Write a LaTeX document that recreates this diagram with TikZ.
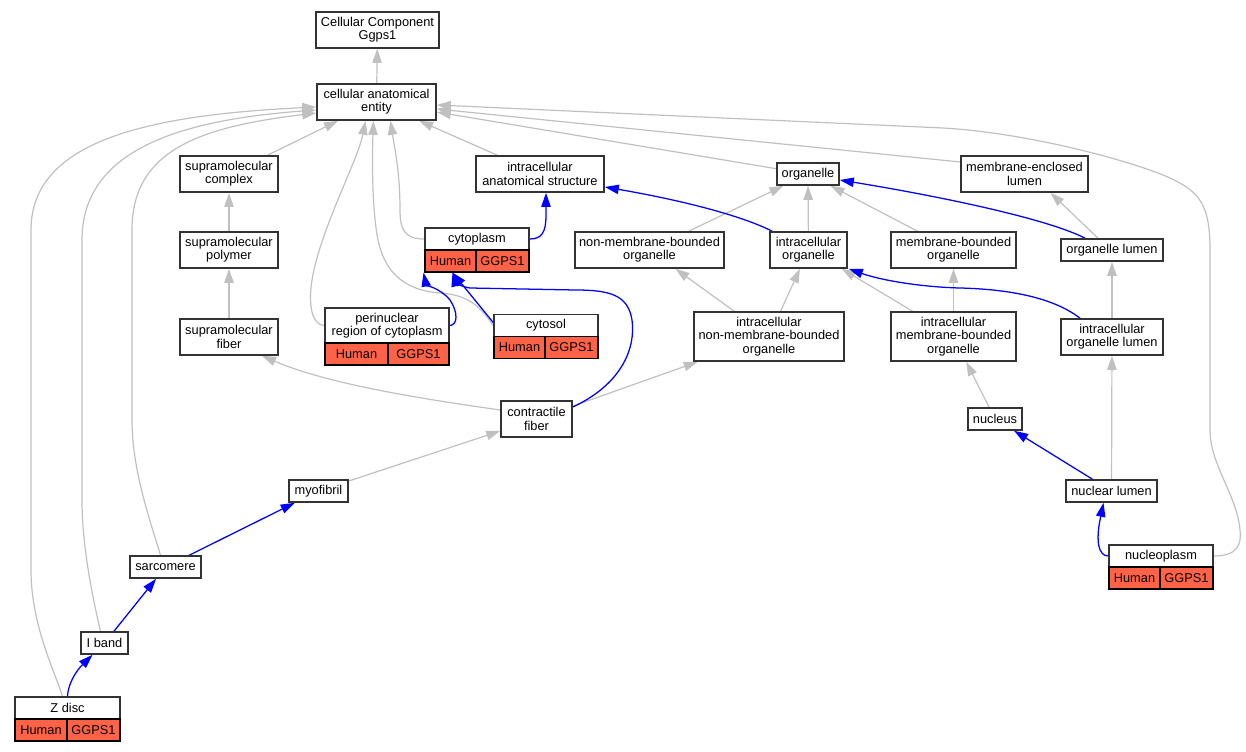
\documentclass[tikz,border=0pt]{standalone}
\usepackage{fontspec}
\setmainfont{Liberation Sans}
\usetikzlibrary{arrows.meta,calc}
\definecolor{gvred}{HTML}{FF6347}
\definecolor{gvgray}{HTML}{C0C0C0}
\definecolor{gvborder}{HTML}{333333}
\pgfdeclarelayer{edges}
\pgfsetlayers{edges,main}
\begin{document}
\begin{tikzpicture}[x=0.75pt,y=-0.75pt,
  font=\fontsize{9.6}{10}\selectfont,
  bw/.style={minimum width=#1*0.75pt},
  bh/.style={minimum height=#1*0.75pt},
  box/.style={draw=gvborder, line width=1.2pt, fill=white, inner sep=0pt, align=center},
  gene/.style={draw=black, line width=0.9pt, fill=gvred, inner sep=0pt, minimum height=16.5pt},
  tip/.style={-{Triangle[length=10.5pt,width=7pt]}},
  gedge/.style={draw=gvgray, line width=0.9pt, tip},
  bedge/.style={draw=blue, line width=0.95pt, tip}]
\useasboundingbox (0,0) rectangle (1246,752);

% nodes
\node[box,bw=123,bh=36] (ccg) at (377.5,30) {Cellular Component\\Ggps1};
\node[box,bw=119,bh=36] (cae) at (376.5,102) {cellular anatomical\\entity};
\node[box,bw=98,bh=36] (smc) at (229,174) {supramolecular\\complex};
\node[box,bw=128,bh=36] (ias) at (540,174) {intracellular\\anatomical structure};
\node[box,bw=62,bh=22] (org) at (808,174) {organelle};
\node[box,bw=127,bh=36] (mel) at (1024.5,174) {membrane-enclosed\\lumen};
\node[box,bw=98,bh=36] (smp) at (229,250) {supramolecular\\polymer};
\node[box,bw=104,bh=22] (cyto) at (477,239) {cytoplasm};
\node[gene,bw=51] (cytoH) at (450.5,261) {Human};
\node[gene,bw=53] (cytoG) at (502.5,261) {GGPS1};
\node[box,bw=149,bh=36] (nmbo) at (649.5,250) {non-membrane-bounded\\organelle};
\node[box,bw=77,bh=36] (io) at (808.5,250) {intracellular\\organelle};
\node[box,bw=125,bh=36] (mbo) at (953.5,250) {membrane-bounded\\organelle};
\node[box,bw=102,bh=22] (ol) at (1112,250) {organelle lumen};
\node[box,bw=98,bh=36] (smf) at (229,337) {supramolecular\\fiber};
\node[box,bw=124,bh=35] (peri) at (387,325.5) {perinuclear\\region of cytoplasm};
\node[gene,bw=63] (periH) at (356.5,354) {Human};
\node[gene,bw=61] (periG) at (418.5,354) {GGPS1};
\node[box,bw=104,bh=22] (cytosol) at (546,325.5) {cytosol};
\node[gene,bw=51] (cytosolH) at (519.5,347.5) {Human};
\node[gene,bw=53] (cytosolG) at (571.5,347.5) {GGPS1};
\node[box,bw=150,bh=49] (inmbo) at (769,336.5) {intracellular\\non-membrane-bounded\\organelle};
\node[box,bw=125,bh=49] (imbo) at (953.5,336.5) {intracellular\\membrane-bounded\\organelle};
\node[box,bw=102,bh=36] (iol) at (1112,337) {intracellular\\organelle lumen};
\node[box,bw=71,bh=36] (cf) at (536.5,419) {contractile\\fiber};
\node[box,bw=54,bh=22] (nuc) at (995,419) {nucleus};
\node[box,bw=59,bh=22] (myo) at (318.5,491) {myofibril};
\node[box,bw=91,bh=22] (nl) at (1111.5,491) {nuclear lumen};
\node[box,bw=71,bh=22] (sarc) at (165.5,567) {sarcomere};
\node[box,bw=104,bh=22] (npl) at (1161,556) {nucleoplasm};
\node[gene,bw=51] (nplH) at (1134.5,578) {Human};
\node[gene,bw=53] (nplG) at (1186.5,578) {GGPS1};
\node[box,bw=47,bh=22] (ib) at (104.5,643) {I band};
\node[box,bw=105,bh=22] (zd) at (67.5,708) {Z disc};
\node[gene,bw=52] (zdH) at (41,730) {Human};
\node[gene,bw=53] (zdG) at (93.5,730) {GGPS1};

\begin{pgfonlayer}{edges}
% gray edges
\draw[gedge] (cae) -- (ccg);
\draw[gedge] (smc) -- (cae);
\draw[gedge] (ias) -- (cae);
\draw[gedge] (org) -- (cae);
\draw[gedge] ($(mel.west)+(0,-12)$) -- ($(cae.east)+(0,7)$);
\draw[gedge] (npl.east) .. controls (1236,556) and (1242,546) .. (1240,530)
  .. controls (1237,495) and (1210,465) .. (1210,430) -- (1210,250)
  .. controls (1210,205) and (1200,192) .. (1170,178)
  .. controls (1135,162) and (1030,133) .. (943,128) -- ($(cae.east)+(0,3)$);
\draw[gedge] ($(zd.north)+(-5,0)$) .. controls (55,672) and (31,625) .. (31,570) -- (31,230)
  .. controls (31,140) and (150,115) .. ($(cae.west)+(0,5)$);
\draw[gedge] ($(ib.north)+(-4,0)$) .. controls (92,595) and (82,545) .. (82,500) -- (82,240)
  .. controls (82,150) and (180,120) .. ($(cae.west)+(0,8)$);
\draw[gedge] ($(sarc.north)+(-5,0)$) .. controls (150,520) and (132,470) .. (132,420) -- (132,230)
  .. controls (132,150) and (200,127) .. ($(cae.west)+(0,11)$);
\draw[gedge] (cyto.west) .. controls (405,239) and (400,230) .. (400,210)
  .. controls (400,170) and (394,145) .. ($(cae.south)+(14,0)$);
\draw[gedge] (peri.west) .. controls (312,325) and (308,305) .. (312,280)
  .. controls (320,230) and (358,160) .. ($(cae.south)+(-11,0)$);
\draw[gedge] (cytosol.west) .. controls (482,310) and (472,295) .. (440,293)
  .. controls (400,290) and (384,268) .. (378,240)
  .. controls (372,210) and (372,160) .. ($(cae.south)+(-3,0)$);
\draw[gedge] (smp) -- (smc);
\draw[gedge] (smf) -- (smp);
\draw[gedge] ($(cf.west)+(0,-9)$) .. controls (430,400) and (330,385) .. ($(smf.south)+(33,0)$);
\draw[gedge] (cf) -- (inmbo);
\draw[gedge] (myo) -- (cf);
\draw[gedge] (io) -- (org);
\draw[gedge] (nmbo) -- (org);
\draw[gedge] (mbo) -- (org);
\draw[gedge] ($(ol.north)+(-14,0)$) -- ($(mel.south)+(26,0)$);
\draw[gedge] (iol) -- (ol);
\draw[gedge] (inmbo) -- (nmbo);
\draw[gedge] (inmbo) -- (io);
\draw[gedge] ($(imbo.north)+(-41,0)$) -- ($(io.south east)+(-6,0)$);
\draw[gedge] (imbo) -- (mbo);
\draw[gedge] (nuc) -- (imbo);
\draw[gedge] (nl) -- (iol);
% blue edges
\draw[bedge] (cyto.east) .. controls (542,239) and (546,232) .. (546,215) -- ($(ias.south)+(6,0)$);
\draw[bedge] ($(io.north west)+(3,0)$) .. controls (740,215) and (680,200) .. ($(ias.east)+(0,13)$);
\draw[bedge] ($(ol.north)+(-27,0)$) .. controls (1050,220) and (950,198) .. ($(org.east)+(0,6)$);
\draw[bedge] ($(iol.north)+(-32,0)$) .. controls (1050,295) and (1000,289) .. (960,288)
  .. controls (920,287) and (880,280) .. ($(io.south east)+(1,0)$);
\draw[bedge] (nl) -- (nuc);
\draw[bedge] (npl.west) .. controls (1098,556) and (1096,540) .. (1100,520) -- ($(nl.south)+(-8,0)$);
\draw[bedge] (sarc) -- (myo);
\draw[bedge] (ib) -- (sarc);
\draw[bedge] (zd.north) .. controls (68,685) and (75,672) .. ($(ib.south)+(-12,0)$);
\draw[bedge] (peri.east) .. controls (458,325) and (458,312) .. (450,300)
  .. controls (440,288) and (426,285) .. ($(cytoH.south)+(-27,0)$);
\draw[bedge] ($(cytosol.west)+(0,-3)$) -- ($(cytoH.south)+(2,0)$);
\draw[bedge] ($(cf.east)+(0,-12)$) .. controls (620,385) and (636,350) .. (632,320)
  .. controls (628,295) and (610,290) .. (575,290) -- (470,288)
  .. controls (462,287) and (455,282) .. ($(cytoH.south)+(2,0)$);
\end{pgfonlayer}
\end{tikzpicture}
\end{document}
